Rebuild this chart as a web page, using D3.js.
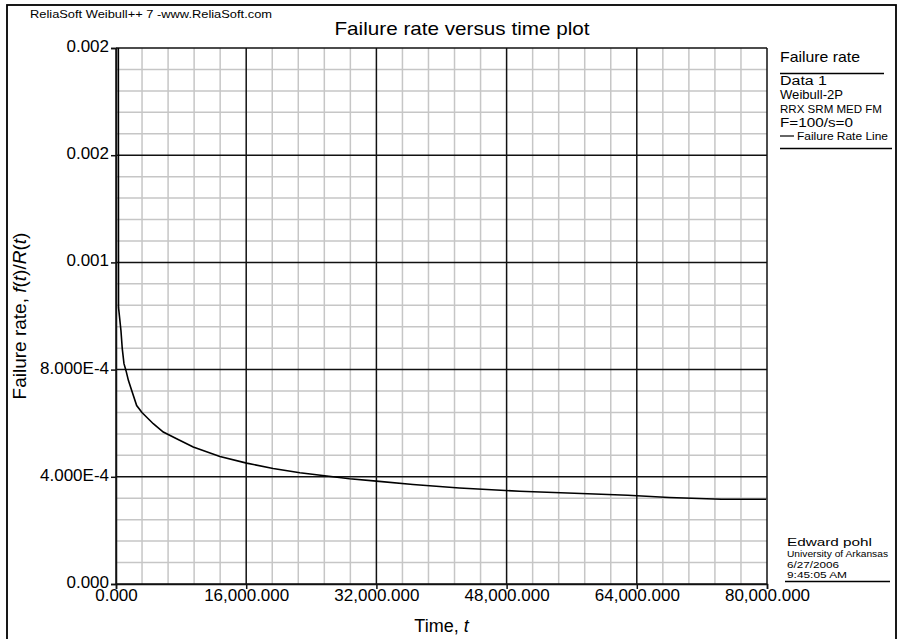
<!DOCTYPE html>
<html>
<head>
<meta charset="utf-8">
<script src="https://cdn.jsdelivr.net/npm/d3@7"></script>
<style>
  html, body { margin: 0; padding: 0; background: #fff; }
  svg { display: block; font-family: "Liberation Sans", Arial, Helvetica, sans-serif; }
</style>
</head>
<body>
<svg id="chart" width="901" height="639"></svg>
<script>
// ---- Data ----
// time (millions), failure rate (x 1e-4)
const timeValues = [0.28, 0.31, 0.61, 0.77, 0.98, 1.23, 1.53, 1.93, 2.54, 3.19, 4.18, 4.58, 5.81, 7.45, 9.49, 12.77, 16.05, 19.31, 22.6, 25.9, 28.7, 32.0, 36.5, 42.2, 49.6, 58.0, 62.9, 68.0, 74.4, 79.9].map(d => d * 1e6);
const rateValues = [24.0, 10.32, 9.45, 8.78, 8.22, 7.96, 7.59, 7.22, 6.66, 6.40, 6.10, 5.98, 5.67, 5.42, 5.11, 4.76, 4.51, 4.31, 4.15, 4.03, 3.93, 3.84, 3.71, 3.58, 3.46, 3.37, 3.31, 3.23, 3.16, 3.16].map(d => d * 1e-4);

const xTickValues = [0, 16e6, 32e6, 48e6, 64e6, 80e6];
const xTickLabels = ["0.000", "16,000.000", "32,000.000", "48,000.000", "64,000.000", "80,000.000"];
const yTickValues = [0, 4e-4, 8e-4, 1.2e-3, 1.6e-3, 2e-3];
const yTickLabels = ["0.000", "4.000E-4", "8.000E-4", "0.001", "0.002", "0.002"];

const legendTitle = "Failure rate";
const legendLines = ["Data 1", "Weibull-2P", "RRX SRM MED FM", "F=100/s=0"];
const legendSeries = "Failure Rate Line";
const footerLines = ["Edward pohl", "University of Arkansas", "6/27/2006", "9:45:05 AM"];

// ---- Layout ----
const svg = d3.select("#chart");
const L = 116, R = 767, T = 48, B = 584;

const x = d3.scaleLinear().domain([0, 80e6]).range([L, R]);
const y = d3.scaleLinear().domain([0, 2e-3]).range([B, T]);

// outer frame
svg.append("rect").attr("x", 7).attr("y", 5).attr("width", 889).attr("height", 640)
  .attr("fill", "none").attr("stroke", "#000").attr("stroke-width", 1.8);

function txt(parent, s, xp, yp, size, len, anchor) {
  const t = parent.append("text").attr("x", xp).attr("y", yp).attr("font-size", size).text(s);
  if (anchor) t.attr("text-anchor", anchor);
  if (len) t.attr("textLength", len).attr("lengthAdjust", "spacingAndGlyphs");
  return t;
}

// top credit + title
txt(svg, "ReliaSoft Weibull++ 7 -www.ReliaSoft.com", 30, 18, 11.5, 242);
txt(svg, "Failure rate versus time plot", 462, 35, 19, 255, "middle");

// grid
const xMinor = d3.range(0, 80e6 + 1, 3.2e6).filter(v => !xTickValues.includes(Math.round(v)));
const yMinor = d3.range(0, 2e-3 + 1e-9, 8e-5).filter(v => yTickValues.every(m => Math.abs(m - v) > 1e-9));

const grid = svg.append("g");
grid.selectAll(".vx").data(xMinor).join("line")
  .attr("x1", d => x(d)).attr("x2", d => x(d)).attr("y1", T).attr("y2", B)
  .attr("stroke", "#c6c6c6").attr("stroke-width", 1.5);
grid.selectAll(".hy").data(yMinor).join("line")
  .attr("y1", d => y(d)).attr("y2", d => y(d)).attr("x1", L).attr("x2", R)
  .attr("stroke", "#c6c6c6").attr("stroke-width", 1.5);
grid.selectAll(".VX").data(xTickValues).join("line")
  .attr("x1", d => x(d)).attr("x2", d => x(d)).attr("y1", T).attr("y2", B)
  .attr("stroke", "#111").attr("stroke-width", 1.5);
grid.selectAll(".HY").data(yTickValues).join("line")
  .attr("y1", d => y(d)).attr("y2", d => y(d)).attr("x1", L).attr("x2", R)
  .attr("stroke", "#111").attr("stroke-width", 1.5);

// axes
const xAxis = svg.append("g").attr("transform", `translate(0,${B})`)
  .call(d3.axisBottom(x).tickValues(xTickValues).tickFormat((d, i) => xTickLabels[i]).tickSize(5).tickPadding(0));
const yAxis = svg.append("g").attr("transform", `translate(${L},0)`)
  .call(d3.axisLeft(y).tickValues(yTickValues).tickFormat((d, i) => yTickLabels[i]).tickSize(5).tickPadding(2));
[xAxis, yAxis].forEach(a => {
  a.select(".domain").attr("stroke", "#111").attr("stroke-width", 1.5);
  a.selectAll(".tick line").attr("stroke", "#111").attr("stroke-width", 1.5);
  a.selectAll("text").attr("font-size", 17).attr("fill", "#000")
    .attr("font-family", "'Liberation Sans', Arial, sans-serif");
});
yAxis.selectAll("text").attr("dy", "0.2em");

// curve
svg.append("clipPath").attr("id", "clip").append("rect")
  .attr("x", L).attr("y", T).attr("width", R - L).attr("height", B - T);
const pts = timeValues.map((t, i) => [t, rateValues[i]]);
svg.append("path").datum(pts)
  .attr("clip-path", "url(#clip)")
  .attr("fill", "none").attr("stroke", "#000").attr("stroke-width", 1.6)
  .attr("d", d3.line().x(d => x(d[0])).y(d => y(d[1])));

// axis titles
svg.append("text").attr("x", (L + R) / 2).attr("y", 632).attr("text-anchor", "middle").attr("font-size", 18)
  .call(t => { t.append("tspan").text("Time, "); t.append("tspan").attr("font-style", "italic").text("t"); });

const yt = svg.append("text").attr("transform", `translate(26,${(T + B) / 2}) rotate(-90)`)
  .attr("text-anchor", "middle").attr("font-size", 19);
[["Failure rate, ", false], ["f", true], ["(", false], ["t", true], [")/", false], ["R", true], ["(", false], ["t", true], [")", false]]
  .forEach(([s, it]) => yt.append("tspan").attr("font-style", it ? "italic" : "normal").text(s));

// legend
const lg = svg.append("g");
txt(lg, legendTitle, 780, 62, 14.5, 80);
lg.append("line").attr("x1", 780).attr("x2", 884).attr("y1", 73.5).attr("y2", 73.5).attr("stroke", "#000").attr("stroke-width", 1.3);
const lgY = [85, 98.5, 112.5, 126.5];
const lgSize = [12, 12.5, 11, 12];
const lgLen = [47, 63, 102, 73];
legendLines.forEach((s, i) => txt(lg, s, 780, lgY[i], lgSize[i], lgLen[i]));
lg.append("line").attr("x1", 780).attr("x2", 794).attr("y1", 136).attr("y2", 136).attr("stroke", "#000").attr("stroke-width", 1.2);
txt(lg, legendSeries, 797, 140, 10, 91);
lg.append("line").attr("x1", 780).attr("x2", 892).attr("y1", 148.5).attr("y2", 148.5).attr("stroke", "#000").attr("stroke-width", 1.3);

// footer
const fY = [546, 557, 567.5, 578];
const fS = [11, 9, 9, 9.5];
const fL = [85, 101, 52, 60];
footerLines.forEach((s, i) => txt(svg, s, 787, fY[i], fS[i], fL[i]));
svg.append("line").attr("x1", 785).attr("x2", 890).attr("y1", 581.5).attr("y2", 581.5).attr("stroke", "#000").attr("stroke-width", 1.3);
</script>
</body>
</html>
